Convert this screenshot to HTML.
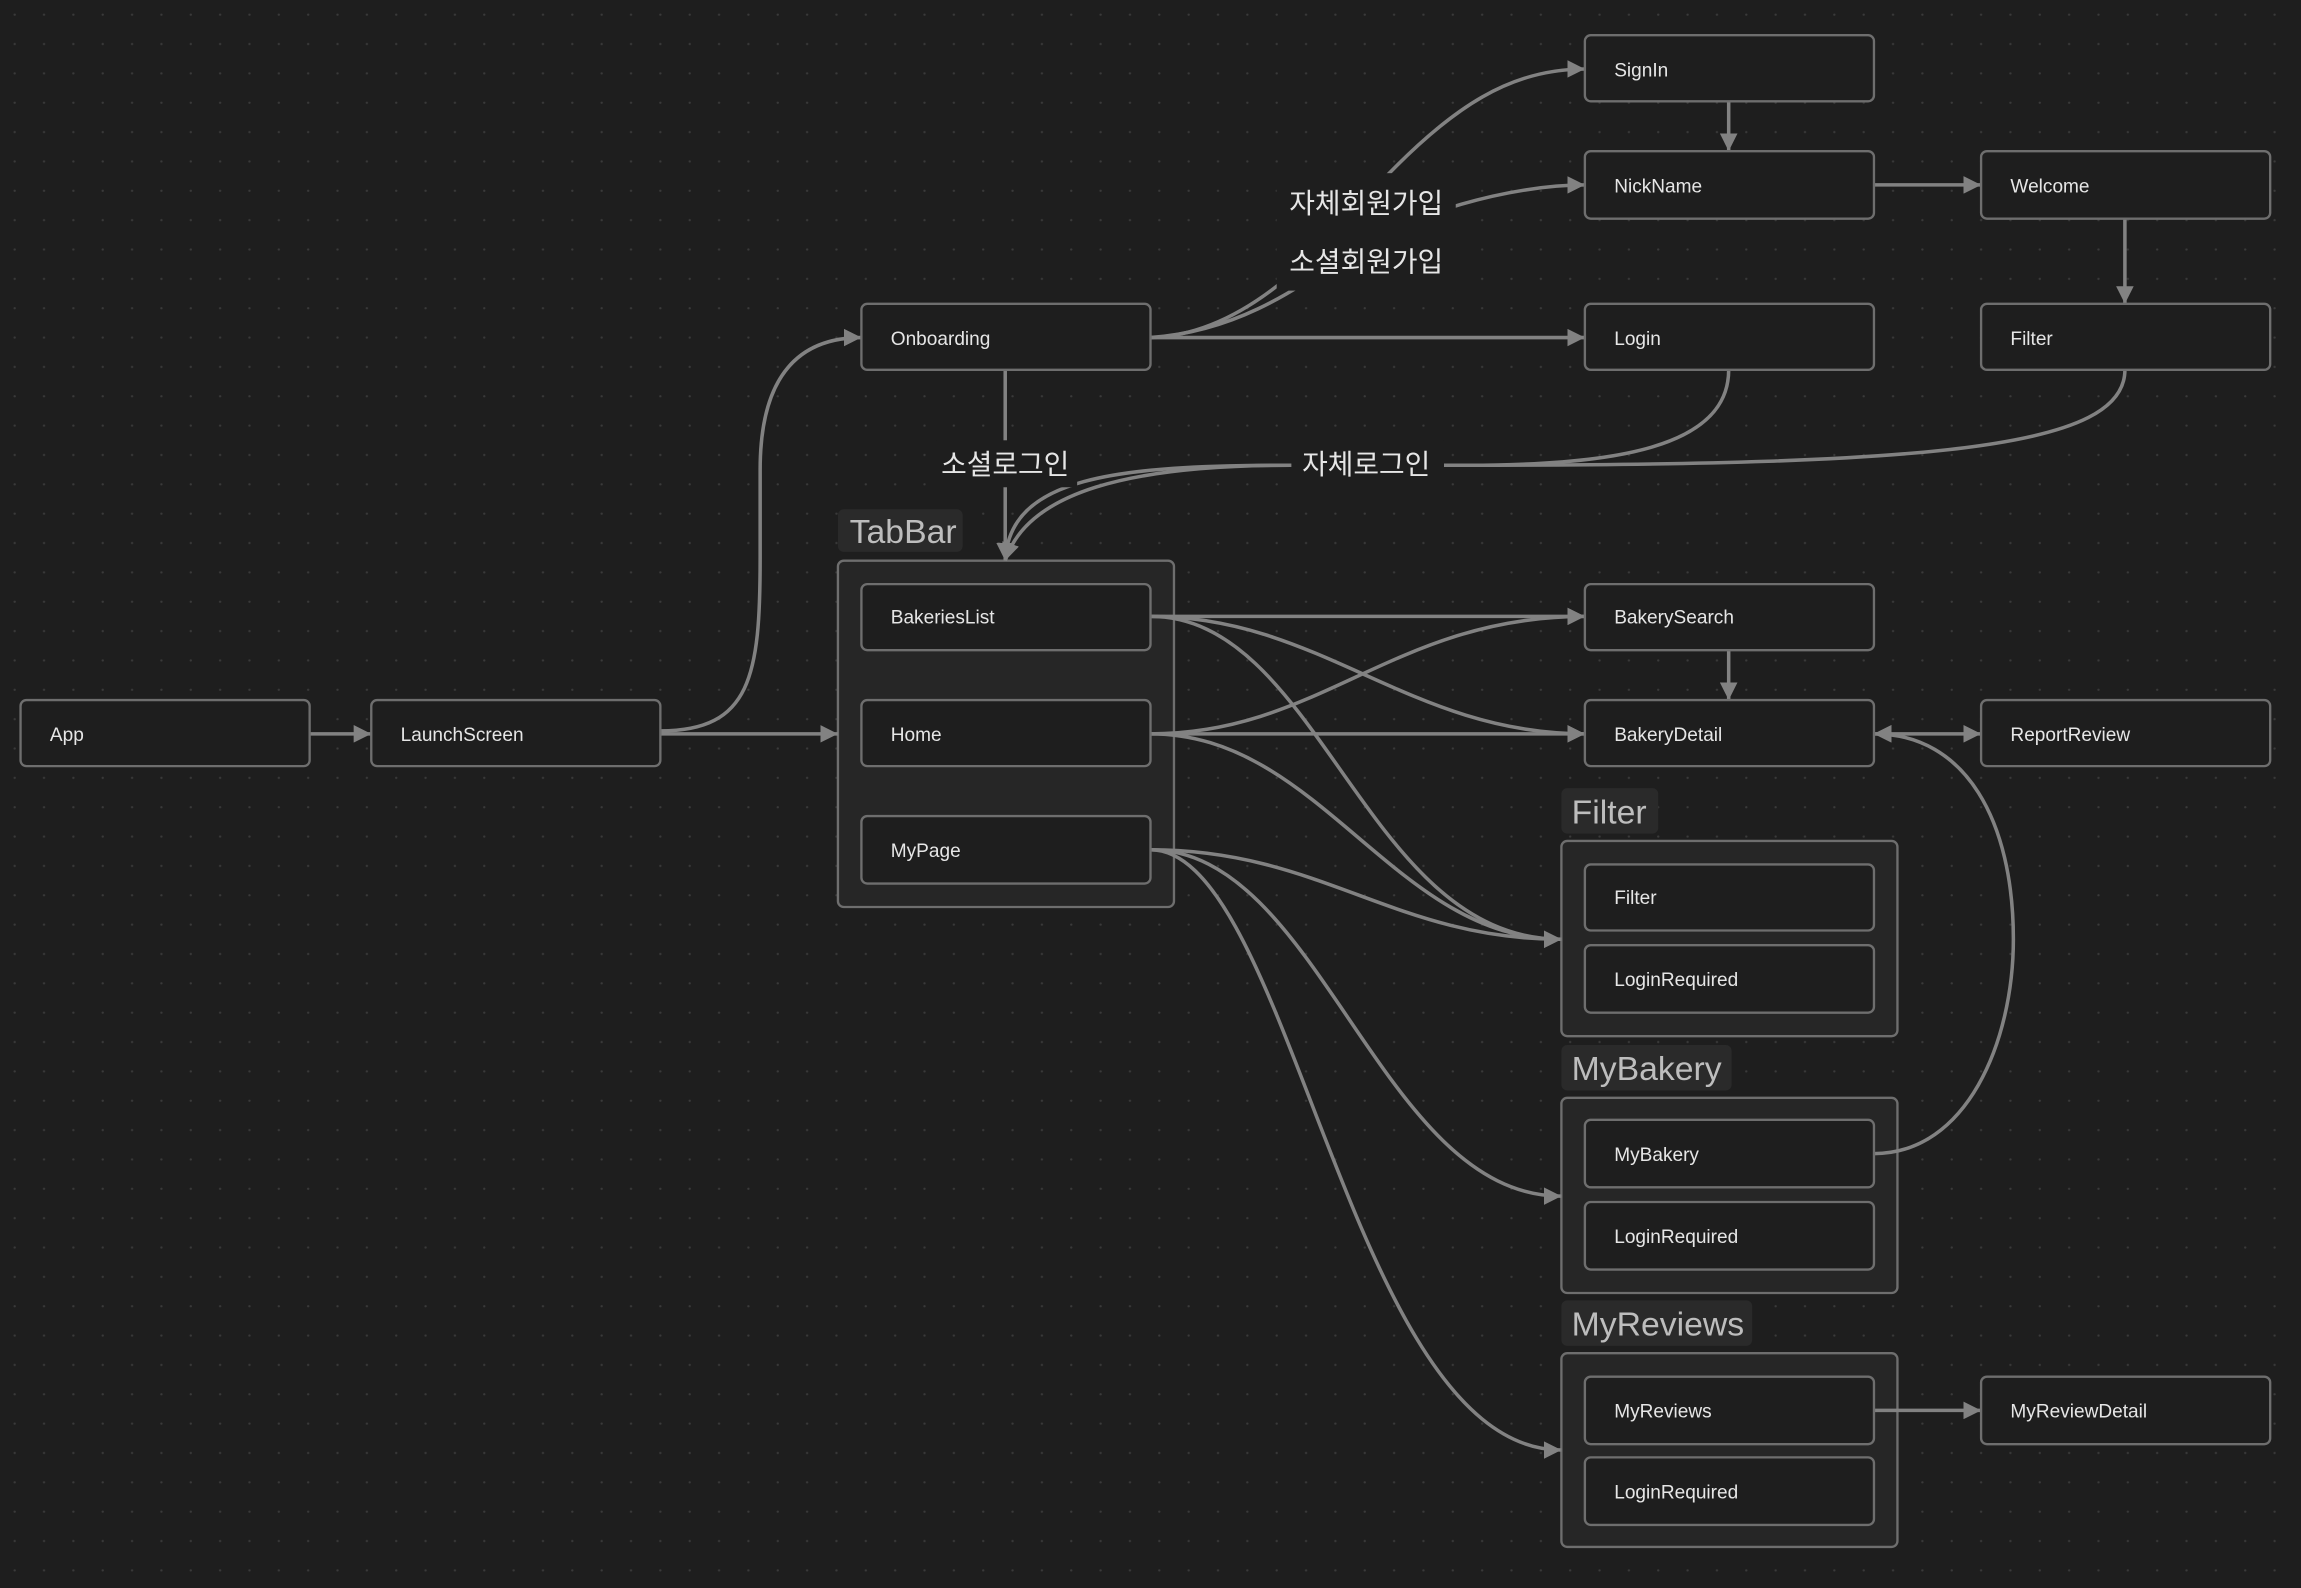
<!DOCTYPE html>
<html><head><meta charset="utf-8"><style>
html,body{margin:0;padding:0;background:#1e1e1e;}
svg{display:block}
.n{fill:#1e1e1e;stroke:#6e6e6e;stroke-width:1.6}
.g{fill:#262626;stroke:#6e6e6e;stroke-width:1.6}
.t{fill:#e6e6e6;font-family:"Liberation Sans",sans-serif;font-size:13px}
.gl{fill:#bdbdbd;font-family:"Liberation Sans",sans-serif;font-size:23px}
.el{fill:#e6e6e6;font-family:"Liberation Sans","Noto Sans CJK KR",sans-serif;font-size:19px}
.e{fill:none;stroke:#828282;stroke-width:2.4}
</style></head><body>
<svg width="2301" height="1588" viewBox="0 0 1568 1082" preserveAspectRatio="none" xmlns="http://www.w3.org/2000/svg">
<defs>
<pattern id="dots" width="20" height="20" patternUnits="userSpaceOnUse"><circle cx="10" cy="10" r="0.8" fill="#3a3a3a"/></pattern>
<marker id="a" viewBox="0 0 10 10" refX="10" refY="5" markerWidth="5" markerHeight="5" orient="auto-start-reverse" markerUnits="strokeWidth"><path d="M0,0 L10,5 L0,10 z" fill="#828282"/></marker>
</defs>
<rect width="1568" height="1082" fill="#1e1e1e"/>
<rect width="1568" height="1082" fill="url(#dots)"/>

<rect x="571" y="347" width="85" height="29" rx="4" fill="#2a2a2a"/><text class="gl" x="579" y="370">TabBar</text>
<rect class="g" x="571" y="382" width="229" height="236" rx="4"/>
<rect x="1064" y="537" width="66" height="31" rx="4" fill="#2a2a2a"/><text class="gl" x="1071" y="561">Filter</text>
<rect class="g" x="1064" y="573" width="229" height="133" rx="4"/>
<rect x="1064" y="712" width="116" height="31" rx="4" fill="#2a2a2a"/><text class="gl" x="1071" y="736">MyBakery</text>
<rect class="g" x="1064" y="748" width="229" height="133" rx="4"/>
<rect x="1064" y="886" width="130" height="31" rx="4" fill="#2a2a2a"/><text class="gl" x="1071" y="910">MyReviews</text>
<rect class="g" x="1064" y="922" width="229" height="132" rx="4"/>

<path class="e" d="M211,500 L253,500" marker-end="url(#a)"/>
<path class="e" d="M450,500 L571,500" marker-end="url(#a)"/>
<path class="e" d="M450,498 C512,498 518,460 518,380 L518,320 C518,255 545,230 587,230" marker-end="url(#a)"/>
<path class="e" d="M784,230 L1080,230" marker-end="url(#a)"/>
<path class="e" d="M784,230 C850,228 900,170 940,125 C990,72 1030,47 1080,47" marker-end="url(#a)"/>
<path class="e" d="M784,230 C840,226 880,200 915,175 C960,145 1030,126 1080,126" marker-end="url(#a)"/>
<path class="e" d="M1178,69 L1178,103" marker-end="url(#a)"/>
<path class="e" d="M1277,126 L1350,126" marker-end="url(#a)"/>
<path class="e" d="M1448,149 L1448,207" marker-end="url(#a)"/>
<path class="e" d="M685,252 L685,382" marker-end="url(#a)"/>
<path class="e" d="M1178,252 C1178,305 1100,317 1000,317 L880,317 C760,317 688,325 685,382" marker-end="url(#a)"/>
<path class="e" d="M1448,252 C1448,305 1320,317 1000,317 L880,317 C770,317 700,335 685,382" marker-end="url(#a)"/>
<path class="e" d="M784,420 L1080,420" marker-end="url(#a)"/>
<path class="e" d="M784,420 C900,420 960,500 1080,500" marker-end="url(#a)"/>
<path class="e" d="M784,420 C900,420 930,640 1064,640" marker-end="url(#a)"/>
<path class="e" d="M784,500 C900,500 950,420 1080,420" marker-end="url(#a)"/>
<path class="e" d="M784,500 L1080,500" marker-end="url(#a)"/>
<path class="e" d="M784,500 C900,500 950,640 1064,640" marker-end="url(#a)"/>
<path class="e" d="M784,579 C900,579 950,640 1064,640" marker-end="url(#a)"/>
<path class="e" d="M784,579 C900,579 940,815 1064,815" marker-end="url(#a)"/>
<path class="e" d="M784,579 C880,579 920,988 1064,988" marker-end="url(#a)"/>
<path class="e" d="M1178,443 L1178,477" marker-end="url(#a)"/>
<path class="e" d="M1277,500 L1350,500" marker-start="url(#a)" marker-end="url(#a)"/>
<path class="e" d="M1277,786 C1340,786 1372,710 1372,640 C1372,560 1340,500 1277,500" marker-end="url(#a)"/>
<path class="e" d="M1277,961 L1350,961" marker-end="url(#a)"/>

<rect x="870" y="118" width="122" height="80" fill="#1e1e1e"/>
<text class="el" x="931" y="145" text-anchor="middle">자체회원가입</text>
<text class="el" x="931" y="185" text-anchor="middle">소셜회원가입</text>
<rect x="638" y="300" width="96" height="32" fill="#1e1e1e"/><text class="el" x="685" y="323" text-anchor="middle">소셜로그인</text>
<rect x="880" y="300" width="104" height="32" fill="#1e1e1e"/><text class="el" x="931" y="323" text-anchor="middle">자체로그인</text>

<rect class="n" x="14" y="477" width="197" height="45" rx="4"/><text class="t" x="34" y="505">App</text>
<rect class="n" x="253" y="477" width="197" height="45" rx="4"/><text class="t" x="273" y="505">LaunchScreen</text>
<rect class="n" x="587" y="207" width="197" height="45" rx="4"/><text class="t" x="607" y="235">Onboarding</text>
<rect class="n" x="1080" y="24" width="197" height="45" rx="4"/><text class="t" x="1100" y="52">SignIn</text>
<rect class="n" x="1080" y="103" width="197" height="46" rx="4"/><text class="t" x="1100" y="131">NickName</text>
<rect class="n" x="1350" y="103" width="197" height="46" rx="4"/><text class="t" x="1370" y="131">Welcome</text>
<rect class="n" x="1080" y="207" width="197" height="45" rx="4"/><text class="t" x="1100" y="235">Login</text>
<rect class="n" x="1350" y="207" width="197" height="45" rx="4"/><text class="t" x="1370" y="235">Filter</text>
<rect class="n" x="587" y="398" width="197" height="45" rx="4"/><text class="t" x="607" y="425">BakeriesList</text>
<rect class="n" x="587" y="477" width="197" height="45" rx="4"/><text class="t" x="607" y="505">Home</text>
<rect class="n" x="587" y="556" width="197" height="46" rx="4"/><text class="t" x="607" y="584">MyPage</text>
<rect class="n" x="1080" y="398" width="197" height="45" rx="4"/><text class="t" x="1100" y="425">BakerySearch</text>
<rect class="n" x="1080" y="477" width="197" height="45" rx="4"/><text class="t" x="1100" y="505">BakeryDetail</text>
<rect class="n" x="1350" y="477" width="197" height="45" rx="4"/><text class="t" x="1370" y="505">ReportReview</text>
<rect class="n" x="1080" y="589" width="197" height="45" rx="4"/><text class="t" x="1100" y="616">Filter</text>
<rect class="n" x="1080" y="644" width="197" height="46" rx="4"/><text class="t" x="1100" y="672">LoginRequired</text>
<rect class="n" x="1080" y="763" width="197" height="46" rx="4"/><text class="t" x="1100" y="791">MyBakery</text>
<rect class="n" x="1080" y="819" width="197" height="46" rx="4"/><text class="t" x="1100" y="847">LoginRequired</text>
<rect class="n" x="1080" y="938" width="197" height="46" rx="4"/><text class="t" x="1100" y="966">MyReviews</text>
<rect class="n" x="1080" y="993" width="197" height="46" rx="4"/><text class="t" x="1100" y="1021">LoginRequired</text>
<rect class="n" x="1350" y="938" width="197" height="46" rx="4"/><text class="t" x="1370" y="966">MyReviewDetail</text>
</svg>
</body></html>
